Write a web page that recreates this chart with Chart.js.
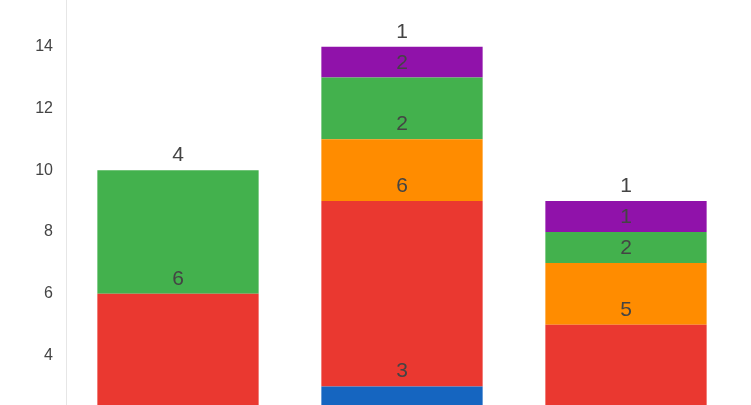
<!DOCTYPE html>
<html>
<head>
<meta charset="utf-8">
<script src="https://cdn.jsdelivr.net/npm/chart.js@4/dist/chart.umd.min.js"></script>
<style>
  html, body { margin: 0; padding: 0; background: #fff; overflow: hidden; }
  .chartBox { position: relative; width: 751px; height: 405px; }
</style>
</head>
<body>
<div class="chartBox"><canvas id="stackChart"></canvas></div>
<script>
// categories (x axis is off the visible area)
const categories = ["Group 1", "Group 2", "Group 3"];

// stacked series, bottom to top
const blueValues = [0, 3, 0];
const redValues = [6, 6, 5];
const orangeValues = [0, 2, 2];
const greenValues = [4, 2, 1];
const purpleValues = [0, 1, 1];

const yTicks = [4, 6, 8, 10, 12, 14];

const fontFamily = "'Liberation Sans', Arial, sans-serif";

// draws the value of each segment just above its top edge
const valueLabels = {
  id: "valueLabels",
  afterDatasetsDraw(chart) {
    const ctx = chart.ctx;
    ctx.save();
    ctx.font = "21px " + fontFamily;
    ctx.fillStyle = "#444";
    ctx.textAlign = "center";
    ctx.textBaseline = "alphabetic";
    chart.data.datasets.forEach((ds, i) => {
      const meta = chart.getDatasetMeta(i);
      meta.data.forEach((bar, j) => {
        const v = ds.data[j];
        if (!v) return;
        ctx.fillText(String(v), bar.x, bar.y - 9);
      });
    });
    ctx.restore();
  },
};

const ctx = document.querySelector("#stackChart");
new Chart(ctx, {
  type: "bar",
  data: {
    labels: categories,
    datasets: [
      { label: "Blue", data: blueValues, backgroundColor: "#1565C0" },
      { label: "Red", data: redValues, backgroundColor: "#EA3830" },
      { label: "Orange", data: orangeValues, backgroundColor: "#FF8C00" },
      { label: "Green", data: greenValues, backgroundColor: "#43B14D" },
      { label: "Purple", data: purpleValues, backgroundColor: "#9012AA" },
    ],
  },
  options: {
    responsive: true,
    maintainAspectRatio: false,
    animation: false,
    layout: { padding: { left: 0, right: 13, top: 0, bottom: 0 } },
    datasets: {
      bar: { barPercentage: 0.72, categoryPercentage: 1, borderWidth: 0 },
    },
    plugins: {
      legend: { display: false },
      tooltip: { enabled: false },
    },
    scales: {
      x: { stacked: true, display: false },
      y: {
        stacked: true,
        min: 2.4,
        max: 15.51,
        afterBuildTicks: (axis) => {
          axis.ticks = yTicks.map((v) => ({ value: v }));
        },
        afterFit: (axis) => {
          axis.width = 66;
          axis.paddingTop = 0;
          axis.paddingBottom = 0;
        },
        grid: { display: false, drawTicks: false },
        border: { display: true, color: "#e6e6e6", width: 1 },
        ticks: {
          padding: 13,
          color: "#444",
          font: { family: fontFamily, size: 16 },
        },
      },
    },
  },
  plugins: [valueLabels],
});
</script>
</body>
</html>
